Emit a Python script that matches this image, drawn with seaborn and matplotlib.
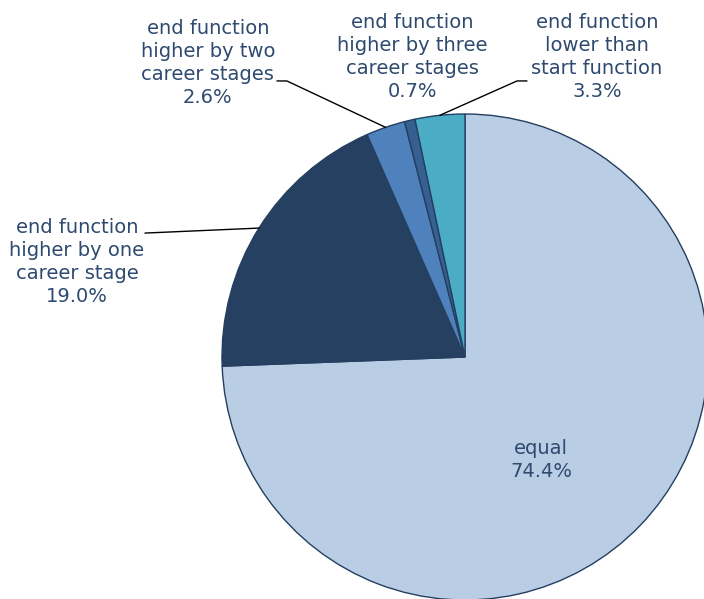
import numpy as np
import matplotlib
matplotlib.use("Agg")
import matplotlib.pyplot as plt
import seaborn as sns

# данные
categories = ["equal",
              "end function\nhigher by one\ncareer stage",
              "end function\nhigher by two\ncareer stages",
              "end function\nhigher by three\ncareer stages",
              "end function\nlower than\nstart function"]
shares = [74.4, 19.0, 2.6, 0.7, 3.3]
colors = ["#B9CDE5", "#254061", "#4F81BD", "#366092", "#4BACC6"]

sns.set_theme(style="white")
plt.rcParams['font.family'] = ['DejaVu Sans']
text_color = "#2E4A6F"

fig = plt.figure(figsize=(7.04, 5.99), dpi=100)
W, H = 704, 599
cx, cy, r = 465, 357, 243
ax = fig.add_axes([(cx - r) / W, (H - cy - r) / H, 2 * r / W, 2 * r / H])

wedges, _ = ax.pie(shares, colors=colors, startangle=90, counterclock=False,
                   wedgeprops=dict(edgecolor="#243F60", linewidth=1.0))
ax.set_xlim(-1, 1)
ax.set_ylim(-1, 1)
ax.axis("off")

# положение подписей (центр текста), точки излома линий
label_pos = [(0.313, -0.424), (-1.597, 0.391), (-1.058, 1.21),
             (-0.218, 1.235), (0.543, 1.235)]
leader_start = [None, (-1.317, 0.510), (-0.774, 1.136), None, (0.255, 1.136)]
leader_knee = [None, None, (-0.733, 1.136), None, (0.214, 1.136)]

for i, (cat, val) in enumerate(zip(categories, shares)):
    x, y = label_pos[i]
    ax.text(x, y, f"{cat}\n{val:.1f}%", ha="center", va="center",
            multialignment="center", fontsize=14, color=text_color,
            linespacing=1.28, clip_on=False)
    if leader_start[i] is not None:
        w = wedges[i]
        ang = np.deg2rad((w.theta1 + w.theta2) / 2)
        pts = [leader_start[i]]
        if leader_knee[i] is not None:
            pts.append(leader_knee[i])
        pts.append((np.cos(ang), np.sin(ang)))
        xs, ys = zip(*pts)
        ax.plot(xs, ys, color="black", lw=1.0, clip_on=False)

fig.savefig("out.png", dpi=100)
